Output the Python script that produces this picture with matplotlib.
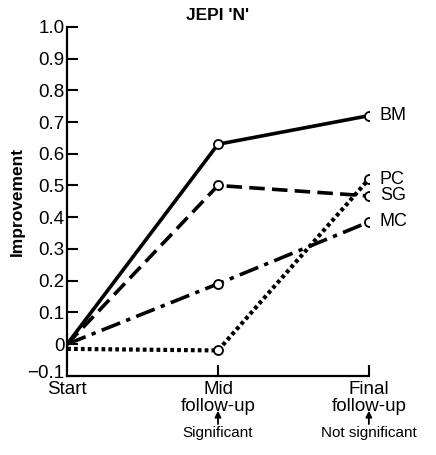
import numpy as np
import matplotlib
matplotlib.use("Agg")
import matplotlib.pyplot as plt
import matplotlib.transforms as mtrans

plt.rcParams['font.family'] = ['Liberation Sans', 'DejaVu Sans']

# Data
stages = ["Start", "Mid\nfollow-up", "Final\nfollow-up"]
signif = ["", "Significant", "Not significant"]
bm = [0.0, 0.63, 0.72]
sg = [0.0, 0.50, 0.467]
mc = [0.0, 0.19, 0.385]
pc = [-0.015, -0.02, 0.52]
groups = ["BM", "PC", "SG", "MC"]

fig = plt.figure(figsize=(4.36, 4.55), dpi=100)
ax = fig.add_axes([0.154, 0.174, 0.692, 0.767])

x = np.arange(len(stages))
mk = dict(marker="o", markersize=6.5, markerfacecolor="white",
          markeredgecolor="black", markeredgewidth=1.3, markevery=[1, 2])

# Lines for each group
ax.plot(x, bm, color="black", lw=2.6, solid_capstyle="butt", **mk)
ax.plot(x, sg, color="black", lw=2.6, dashes=(4.3, 2.0), dash_capstyle="butt", **mk)
ax.plot(x, mc, color="black", lw=2.6, dashes=(5.5, 1.8, 1.2, 1.8), dash_capstyle="butt", **mk)
ax.plot(x, pc, color="black", lw=3.0, dashes=(0.9, 0.75), dash_capstyle="butt", **mk)

# group labels at the final point
for name, vals in zip(groups, [bm, pc, sg, mc]):
    ax.annotate(name, (x[-1], vals[-1]), xytext=(8, 0), textcoords="offset points",
                va="center", ha="left", fontsize=13, annotation_clip=False)

ax.set_xlim(0, 2)
ax.set_ylim(-0.1, 1.0)
ax.set_yticks(np.round(np.arange(-0.1, 1.01, 0.1), 1))
ax.set_yticklabels(["\u22120.1", "0"] + ["%.1f" % v for v in np.arange(0.1, 1.01, 0.1)])
ax.set_xticks(x)
ax.set_xticklabels(stages, fontsize=13.5, linespacing=0.95)
ax.tick_params(axis="y", direction="in", length=8, width=1.5, labelsize=13.5, pad=2)
ax.tick_params(axis="x", direction="in", length=8, width=1.5, pad=4)
ax.xaxis.get_major_ticks()[0].tick1line.set_visible(False)

# nudge -0.1 up a little so it sits above "Start" like the original
lab = ax.get_yticklabels()[0]
lab.set_transform(lab.get_transform() + mtrans.ScaledTranslation(0, 3 / 72, fig.dpi_scale_trans))

for s in ["top", "right"]:
    ax.spines[s].set_visible(False)
for s in ["left", "bottom"]:
    ax.spines[s].set_linewidth(1.6)

# arrows + significance notes below tick labels
for xi, txt in zip(x, signif):
    if not txt:
        continue
    ax.annotate("", xy=(xi, -0.21), xytext=(xi, -0.252), xycoords="data",
                arrowprops=dict(arrowstyle="-|>", color="black", lw=1.3,
                                mutation_scale=9, shrinkA=0, shrinkB=0),
                annotation_clip=False)
    ax.text(xi, -0.259, txt, ha="center", va="top", fontsize=11, clip_on=False)

ax.set_ylabel("Improvement", fontsize=12.5, fontweight="bold", labelpad=2)
ax.set_title("JEPI 'N'", fontsize=12.5, fontweight="bold", pad=5)

fig.savefig("out.png", dpi=100)
